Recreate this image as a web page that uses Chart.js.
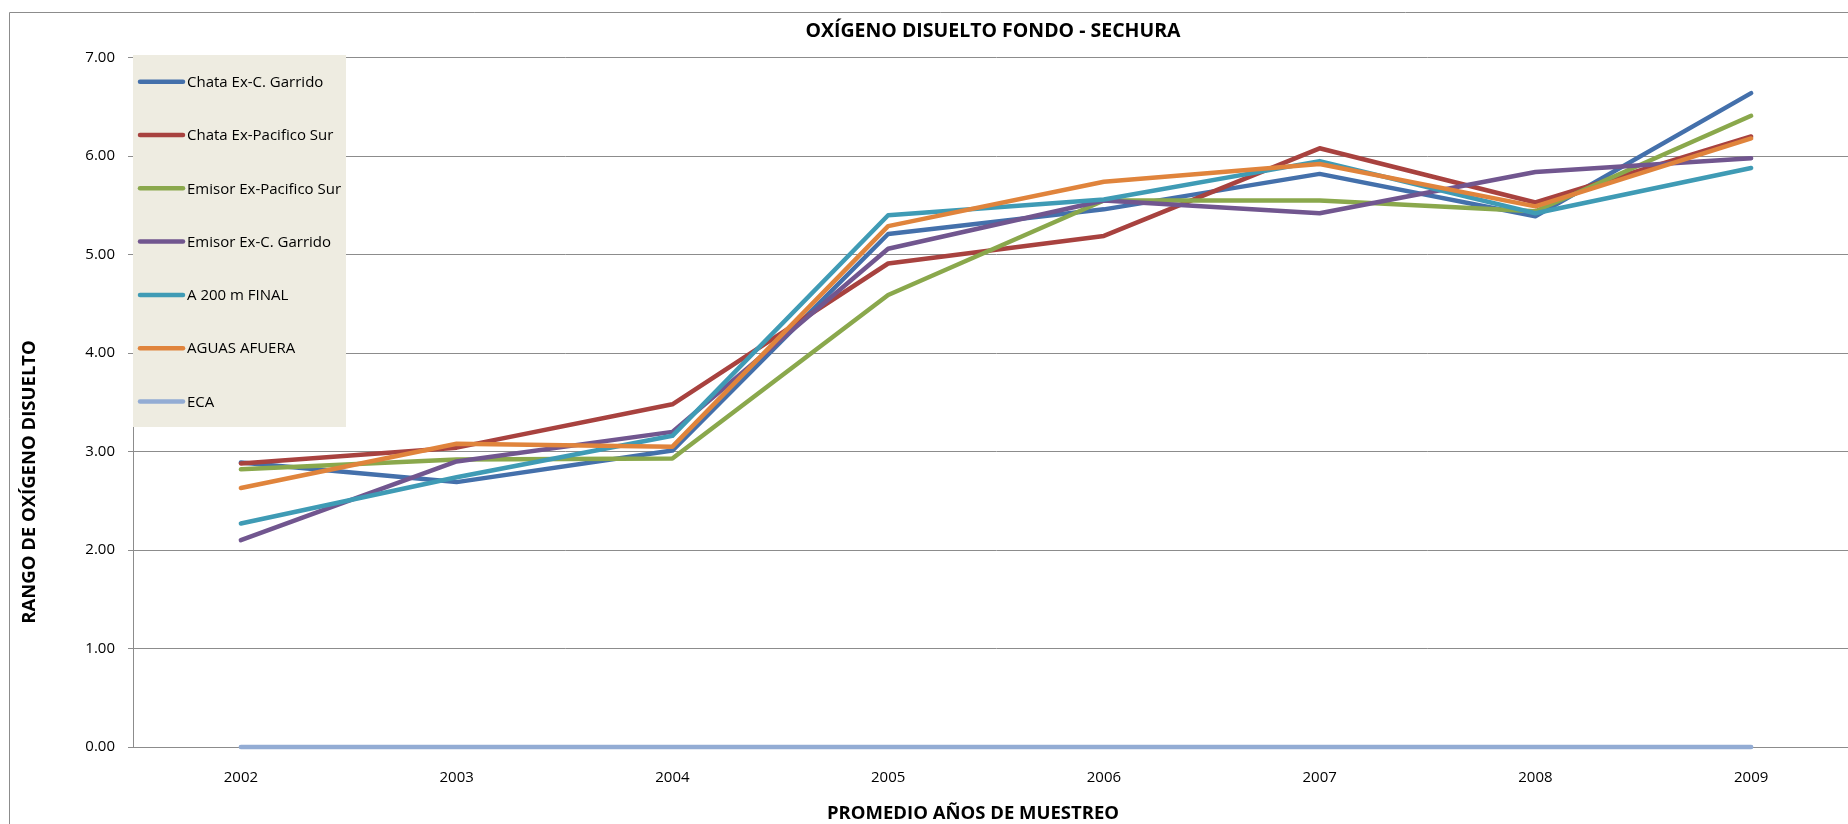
<!DOCTYPE html>
<html>
<head>
<meta charset="utf-8">
<script src="https://cdn.jsdelivr.net/npm/chart.js@4.4.1/dist/chart.umd.min.js"></script>
<style>
  html, body { margin: 0; padding: 0; background: #fff; overflow: hidden; }
  #wrap { position: relative; width: 1870px; height: 824px; }
</style>
</head>
<body>
<div id="wrap"><canvas id="myChart"></canvas></div>
<script>
// categories and series
var years = ['2002', '2003', '2004', '2005', '2006', '2007', '2008', '2009'];
var chataGarrido   = [2.89, 2.69, 3.01, 5.21, 5.46, 5.82, 5.39, 6.64];
var chataPacifico  = [2.88, 3.04, 3.48, 4.91, 5.19, 6.08, 5.53, 6.20];
var emisorPacifico = [2.82, 2.92, 2.93, 4.59, 5.55, 5.55, 5.44, 6.41];
var emisorGarrido  = [2.10, 2.90, 3.20, 5.06, 5.55, 5.42, 5.84, 5.98];
var a200Final      = [2.27, 2.74, 3.16, 5.40, 5.56, 5.95, 5.42, 5.88];
var aguasAfuera    = [2.63, 3.08, 3.05, 5.29, 5.74, 5.92, 5.49, 6.18];
var eca            = [0, 0, 0, 0, 0, 0, 0, 0];

var seriesNames = ['Chata Ex-C. Garrido', 'Chata Ex-Pacifico Sur', 'Emisor Ex-Pacifico Sur',
                   'Emisor Ex-C. Garrido', 'A 200 m FINAL', 'AGUAS AFUERA', 'ECA'];
var seriesData = [chataGarrido, chataPacifico, emisorPacifico, emisorGarrido, a200Final, aguasAfuera, eca];
var seriesColors = ['#4470AB', '#A8423F', '#8AA84C', '#71568F', '#3F9BB5', '#E0843C', '#93ACD4'];

var yTicks = [0, 1, 2, 3, 4, 5, 6, 7];

Chart.defaults.font.family = "'Open Sans', sans-serif";
Chart.defaults.color = '#000';

// titles, legend box and outer frame drawn by hand, Excel style
var excelBits = {
    id: 'excelBits',
    afterDraw: function (chart) {
        var ctx = chart.ctx;
        ctx.save();
        // outer frame (right / bottom edges are cut off in the original)
        ctx.strokeStyle = '#8c8c8c';
        ctx.lineWidth = 1;
        ctx.beginPath();
        ctx.moveTo(9.5, 900);
        ctx.lineTo(9.5, 12.5);
        ctx.lineTo(2000, 12.5);
        ctx.stroke();

        ctx.fillStyle = '#000';
        ctx.textAlign = 'center';
        ctx.textBaseline = 'middle';
        ctx.font = "bold 19.5px 'Open Sans'";
        ctx.fillText('OXÍGENO DISUELTO FONDO - SECHURA', 993, 31);

        ctx.font = "bold 18.5px 'Open Sans'";
        ctx.fillText('PROMEDIO AÑOS DE MUESTREO', 973, 814);

        ctx.save();
        ctx.translate(30, 482);
        ctx.rotate(-Math.PI / 2);
        ctx.fillText('RANGO DE OXÍGENO DISUELTO', 0, 0);
        ctx.restore();

        // legend
        ctx.fillStyle = '#EEECE1';
        ctx.fillRect(133, 55, 213, 372);
        ctx.font = "15px 'Open Sans'";
        ctx.textAlign = 'left';
        chart.data.datasets.forEach(function (ds, i) {
            var y = 81.7 + i * 53.3;
            ctx.strokeStyle = ds.borderColor;
            ctx.lineWidth = 4.5;
            ctx.lineCap = 'round';
            ctx.beginPath();
            ctx.moveTo(140, y);
            ctx.lineTo(183, y);
            ctx.stroke();
            ctx.fillStyle = '#000';
            ctx.fillText(ds.label, 187, y + 1);
        });
        ctx.restore();
    }
};

var datasets = seriesNames.map(function (name, i) {
    return {
        label: name,
        data: seriesData[i],
        borderColor: seriesColors[i],
        backgroundColor: seriesColors[i],
        borderWidth: 4.5,
        borderJoinStyle: 'round',
        borderCapStyle: 'round',
        pointRadius: 0,
        tension: 0,
        fill: false,
        clip: 8,
        order: 10 - i
    };
});

var oxChart = new Chart(document.getElementById('myChart').getContext('2d'), {
    type: 'line',
    data: {
        labels: years,
        datasets: datasets
    },
    options: {
        responsive: true,
        maintainAspectRatio: false,
        animation: false,
        layout: {
            padding: { left: 9, top: 57.7, right: 11, bottom: 0 }
        },
        scales: {
            x: {
                offset: true,
                grid: { display: false, drawTicks: false },
                border: { display: true, color: '#8c8c8c', width: 1 },
                ticks: { font: { size: 15 }, padding: 22, maxRotation: 0 },
                afterFit: function (s) { s.height = 77; }
            },
            y: {
                min: 0,
                max: 7,
                afterBuildTicks: function (s) {
                    s.ticks = yTicks.map(function (v) { return { value: v }; });
                },
                grid: { color: '#8c8c8c', lineWidth: 1, tickLength: 5 },
                border: { display: true, color: '#8c8c8c', width: 1 },
                ticks: {
                    font: { size: 15 },
                    padding: 13,
                    callback: function (v) { return Number(v).toFixed(2); }
                },
                afterFit: function (s) { s.width = 124; }
            }
        },
        plugins: {
            legend: { display: false },
            title: { display: false },
            tooltip: { enabled: false }
        }
    },
    plugins: [excelBits]
});
</script>
</body>
</html>
